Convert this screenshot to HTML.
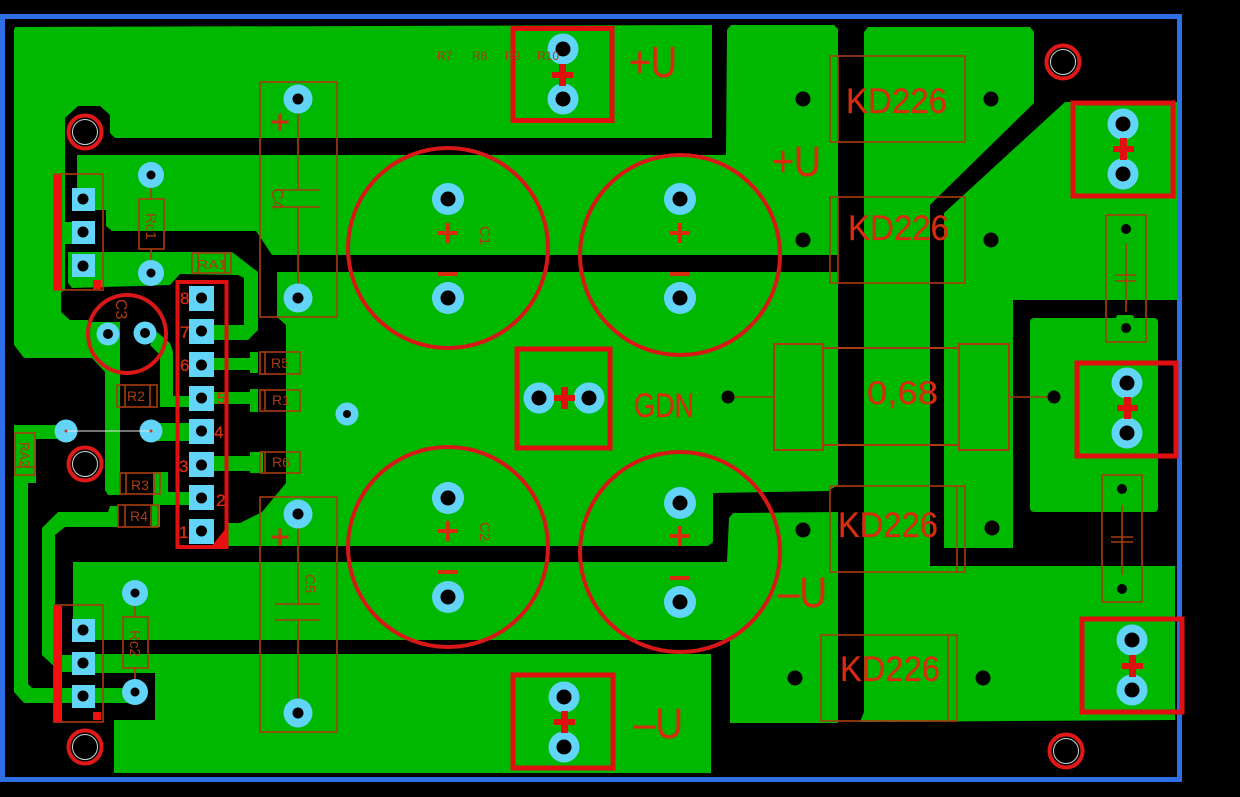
<!DOCTYPE html>
<html><head><meta charset="utf-8"><style>
html,body{margin:0;padding:0;background:#000;width:1240px;height:797px;overflow:hidden}
svg{display:block}
text{font-family:"Liberation Sans",sans-serif}
.g{fill:#00b800}
.o{fill:none;stroke:#a83c10;stroke-width:1.6}
.t{fill:none;stroke:#e01010;stroke-width:5}
.c{fill:none;stroke:#d81818;stroke-width:4}
.l{fill:#d82c10;stroke:#d82c10;stroke-width:.3}
.s{fill:#a83c10}
.v{fill:#62d4f8}
</style></head><body>
<svg width="1240" height="797" viewBox="0 0 1240 797" xmlns="http://www.w3.org/2000/svg">
<rect width="1240" height="797" fill="#000"/>
<!-- copper -->
<g class="g">
<polygon points="15,27 712,25 712,138 115,138 110,133 110,115 100,106 78,106 65,118 65,290 61,292 61,312 70,320 88,320 88,322 120,322 120,495 108,495 105,490 105,372 92,358 24,358 14,345 14,30"/>
<polygon points="77,155 726,155 727,30 731,25 834,25 838,29 838,255 272,255 256,231 112,231 106,226 106,210 94,210 77,187"/>
<rect x="60" y="222" width="15" height="22"/>
<polygon points="68,252 232,252 258,272 258,330 248,340 212,340 212,325 244,325 244,278 238,275 180,274 170,285 72,288 68,283"/>
<polygon points="277,272 838,272 838,485 828,491 713,493 713,542 708,546 228,546 228,523 240,523 262,512 286,483 286,325 277,317"/>
<polygon points="733,513 838,512 838,723 730,723 730,640 727,640 73,640 73,562 727,562 729,518"/>
<polygon points="80,654 711,654 711,773 114,773 114,720 155,720 155,673 80,673"/>
<polygon points="868,27 1030,27 1034,32 1034,103 940,195 930,205 930,566 1175,566 1175,720 860,722 864,712 864,32"/>
<polygon points="1065,102 1177,102 1177,300 1013,300 1013,548 944,548 944,213"/>
<rect x="1030" y="318" width="128" height="194" rx="4"/>
<rect x="1116" y="315" width="18" height="5" rx="2.500"/>
<!-- traces -->
<polygon points="14,425 66,425 66,439 36,439 36,483 28,483 28,684 32,688 135,688 135,703 24,703 14,692 14,468 14,425"/>
<polygon points="118,506 118,527 65,527 55,535 55,648 62,655 72,655 72,672 60,672 42,655 42,528 58,512 108,512 110,506"/>
<rect x="151" y="423" width="40" height="18"/>
<rect x="214" y="456" width="46" height="15"/>
<rect x="250" y="452" width="13" height="21"/>
<rect x="153" y="472" width="15" height="33"/>
<rect x="153" y="492" width="38" height="13"/>
<rect x="152" y="505" width="8" height="22"/>
<rect x="160" y="396" width="30" height="11"/>
<rect x="214" y="392" width="40" height="12"/>
<rect x="250" y="389" width="8" height="23"/>
<rect x="214" y="358" width="40" height="12"/>
<rect x="250" y="352" width="8" height="21"/>
<polygon points="157,332 170,343 173,352 173,400 160,407 160,355 150,345"/>
</g>
<!-- board border -->
<rect x="2.5" y="16.5" width="1177" height="763" fill="none" stroke="#2f6fe6" stroke-width="5"/>
<!-- outlines -->
<g class="o">
<rect x="260" y="82" width="77" height="235"/>
<rect x="260" y="497" width="77" height="235"/>
<path d="M298 112V190M275 190H320M275 207H320M298 207V285M298 527V604M275 604H320M275 620H320M298 620V700"/>
<rect x="830" y="56" width="135" height="86"/><path d="M838 56V142"/>
<rect x="830" y="197" width="135" height="86"/><path d="M838 197V283"/>
<rect x="830" y="486" width="135" height="86"/><path d="M957 486V572"/>
<rect x="821" y="635" width="136" height="86"/><path d="M948 635V721"/>
<rect x="774" y="344" width="49" height="106" stroke-width="2"/>
<rect x="959" y="344" width="50" height="106" stroke-width="2"/>
<rect x="823" y="348" width="136" height="97" stroke-width="2"/>
<path d="M728 397H774M1009 397H1054"/>
<rect x="1106" y="215" width="40" height="127"/>
<path d="M1126 243V312M1115 275H1136M1115 281H1136"/>
<rect x="1102" y="475" width="40" height="127"/>
<path d="M1122 505V575M1111 537H1133M1111 542H1133"/>
<rect x="54" y="174" width="49" height="116"/>
<rect x="54" y="605" width="49" height="117"/>
<rect x="139" y="199" width="25" height="50"/><path d="M151 188V199M151 249V260"/>
<rect x="123" y="617" width="25" height="51"/><path d="M135 606V617M135 668V679"/>
<rect x="192" y="253" width="39" height="20"/><path d="M198 253V273M225 253V273"/>
<rect x="117" y="385" width="40" height="22"/><path d="M125 385V407M150 385V407"/>
<rect x="120" y="473" width="40" height="21"/><path d="M126 473V494M154 473V494"/>
<rect x="118" y="505" width="40" height="22"/><path d="M125 505V527M151 505V527"/>
<rect x="15" y="433" width="20" height="42"/><path d="M15 467H35"/>
<rect x="260" y="352" width="40" height="22"/><path d="M265 352V374"/>
<rect x="260" y="390" width="40" height="21"/><path d="M265 390V411"/>
<rect x="260" y="452" width="40" height="21"/><path d="M265 452V473"/>
</g>
<!-- large caps -->
<g class="c">
<circle cx="448" cy="248" r="100"/><circle cx="680" cy="255" r="100"/>
<circle cx="448" cy="547" r="100"/><circle cx="680" cy="552" r="100"/>
<circle cx="127" cy="334" r="39"/>
</g>
<!-- terminals -->
<g class="t">
<rect x="513" y="28.500" width="99" height="92"/>
<rect x="513" y="675" width="100" height="93"/>
<rect x="517" y="349" width="93" height="99"/>
<rect x="1073" y="103" width="100" height="93"/>
<rect x="1077" y="363" width="99" height="93"/>
<rect x="1082" y="619" width="100" height="93"/>
<rect x="177.500" y="282" width="49" height="265" stroke-width="4"/>
</g>
<polygon points="227,527 227,548 210,548" fill="#e81010"/>
<rect x="54" y="175" width="8" height="115" fill="#f01010"/>
<rect x="54" y="606" width="8" height="116" fill="#f01010"/>
<rect x="93" y="280" width="8" height="9" fill="#f01010"/>
<rect x="93" y="712" width="8" height="8" fill="#f01010"/>
<!-- vias -->
<g class="v">
<circle cx="298" cy="99" r="14.500"/><circle cx="298" cy="298" r="14.500"/>
<circle cx="298" cy="514" r="14.500"/><circle cx="298" cy="713" r="14.500"/>
<circle cx="448" cy="199" r="16"/><circle cx="448" cy="298" r="16"/>
<circle cx="680" cy="199" r="16"/><circle cx="680" cy="298" r="16"/>
<circle cx="448" cy="498" r="16"/><circle cx="448" cy="597" r="16"/>
<circle cx="680" cy="503" r="16"/><circle cx="680" cy="602" r="16"/>
<circle cx="563" cy="49" r="15.500"/><circle cx="563" cy="99" r="15.500"/>
<circle cx="564" cy="697" r="15.500"/><circle cx="564" cy="747" r="15.500"/>
<circle cx="539" cy="398" r="15.500"/><circle cx="589" cy="398" r="15.500"/>
<circle cx="1123" cy="124" r="15.500"/><circle cx="1123" cy="174" r="15.500"/>
<circle cx="1127" cy="383" r="15.500"/><circle cx="1127" cy="433" r="15.500"/>
<circle cx="1132" cy="640" r="15.500"/><circle cx="1132" cy="690" r="15.500"/>
<circle cx="151" cy="175" r="13"/><circle cx="151" cy="273" r="13"/>
<circle cx="135" cy="593" r="13"/><circle cx="135" cy="692" r="13"/>
<circle cx="66" cy="431" r="11.500"/><circle cx="151" cy="431" r="11.500"/>
<circle cx="347" cy="414" r="11.500"/>
<circle cx="108" cy="334" r="11.500"/><circle cx="145" cy="333" r="11.500"/>
<rect x="189" y="286" width="25" height="25"/><rect x="189" y="319" width="25" height="25"/>
<rect x="189" y="352" width="25" height="25"/><rect x="189" y="386" width="25" height="25"/>
<rect x="189" y="419" width="25" height="25"/><rect x="189" y="452" width="25" height="25"/>
<rect x="189" y="485" width="25" height="25"/><rect x="189" y="519" width="25" height="25"/>
<rect x="72" y="188" width="23" height="23"/><rect x="72" y="221" width="23" height="23"/><rect x="72" y="254" width="23" height="23"/>
<rect x="72" y="619" width="23" height="23"/><rect x="72" y="652" width="23" height="23"/><rect x="72" y="685" width="23" height="23"/>
</g>
<g fill="#000">
<circle cx="298" cy="99" r="5.500"/><circle cx="298" cy="298" r="5.500"/><circle cx="298" cy="514" r="5.500"/><circle cx="298" cy="713" r="5.500"/>
<circle cx="448" cy="199" r="7.500"/><circle cx="448" cy="298" r="7.500"/><circle cx="680" cy="199" r="7.500"/><circle cx="680" cy="298" r="7.500"/>
<circle cx="448" cy="498" r="7.500"/><circle cx="448" cy="597" r="7.500"/><circle cx="680" cy="503" r="7.500"/><circle cx="680" cy="602" r="7.500"/>
<circle cx="563" cy="49" r="7.500"/><circle cx="563" cy="99" r="7.500"/><circle cx="564" cy="697" r="7.500"/><circle cx="564" cy="747" r="7.500"/>
<circle cx="539" cy="398" r="7.500"/><circle cx="589" cy="398" r="7.500"/>
<circle cx="1123" cy="124" r="7.500"/><circle cx="1123" cy="174" r="7.500"/><circle cx="1127" cy="383" r="7.500"/><circle cx="1127" cy="433" r="7.500"/>
<circle cx="1132" cy="640" r="7.500"/><circle cx="1132" cy="690" r="7.500"/>
<circle cx="151" cy="175" r="4.500"/><circle cx="151" cy="273" r="4.500"/><circle cx="135" cy="593" r="4.500"/><circle cx="135" cy="692" r="4.500"/>
<circle cx="347" cy="414" r="4"/><circle cx="108" cy="334" r="5"/><circle cx="145" cy="333" r="5"/>
<circle cx="201.500" cy="298" r="5.500"/><circle cx="201.500" cy="331" r="5.500"/><circle cx="201.500" cy="365" r="5.500"/><circle cx="201.500" cy="398" r="5.500"/>
<circle cx="201.500" cy="431" r="5.500"/><circle cx="201.500" cy="465" r="5.500"/><circle cx="201.500" cy="498" r="5.500"/><circle cx="201.500" cy="531" r="5.500"/>
<circle cx="83" cy="199" r="5.500"/><circle cx="83" cy="232" r="5.500"/><circle cx="83" cy="266" r="5.500"/>
<circle cx="83" cy="630" r="5.500"/><circle cx="83" cy="663" r="5.500"/><circle cx="83" cy="696" r="5.500"/>
<circle cx="803" cy="99" r="7.500"/><circle cx="991" cy="99" r="7.500"/><circle cx="803" cy="240" r="7.500"/><circle cx="991" cy="240" r="7.500"/>
<circle cx="803" cy="530" r="7.500"/><circle cx="992" cy="528" r="7.500"/><circle cx="795" cy="678" r="7.500"/><circle cx="983" cy="678" r="7.500"/>
<circle cx="728" cy="397" r="6.500"/><circle cx="1054" cy="397" r="6.500"/>
<circle cx="1126" cy="229" r="5"/><circle cx="1126" cy="328" r="5"/><circle cx="1122" cy="489" r="5"/><circle cx="1122" cy="589" r="5"/>
</g>
<path d="M66 431H151" stroke="#e8e8e8" stroke-width="1"/>
<circle cx="66" cy="431" r="1.500" fill="#c04020"/><circle cx="151" cy="431" r="1.500" fill="#c04020"/>
<!-- mounting holes -->
<g fill="#000" stroke="#e01818" stroke-width="4">
<circle cx="85" cy="132" r="16.500"/><circle cx="85" cy="464" r="16.500"/><circle cx="85" cy="747" r="16.500"/>
<circle cx="1063" cy="62" r="16.500"/><circle cx="1066" cy="751" r="16.500"/>
</g>
<g fill="none" stroke="#c8d8d0" stroke-width="1">
<circle cx="85" cy="132" r="12.500"/><circle cx="85" cy="464" r="12.500"/><circle cx="85" cy="747" r="12.500"/>
<circle cx="1063" cy="62" r="12.500"/><circle cx="1066" cy="751" r="12.500"/>
</g>
<!-- plus / minus marks -->
<g fill="#e01010">
<path d="M552 72H573V78H552Z M559 64H566V86H559Z"/>
<path d="M554 719H575V725H554Z M561 711H568V733H561Z"/>
<path d="M554 395H575V401H554Z M561 387H568V409H561Z"/>
<path d="M1113 146H1134V152H1113Z M1120 138H1127V160H1120Z"/>
<path d="M1117 405H1138V411H1117Z M1124 397H1131V419H1124Z"/>
<path d="M1122 663H1143V669H1122Z M1129 655H1136V677H1129Z"/>
</g>
<g fill="#d82c10">
<path d="M438 231H458V235H438Z M446 223H450V243H446Z"/>
<path d="M670 231H690V235H670Z M678 223H682V243H678Z"/>
<path d="M438 529H458V533H438Z M446 521H450V541H446Z"/>
<path d="M670 534H690V538H670Z M678 526H682V546H678Z"/>
<rect x="438" y="272" width="20" height="4"/><rect x="670" y="272" width="20" height="4"/>
<rect x="438" y="570" width="20" height="4"/><rect x="670" y="576" width="20" height="4"/>
<path d="M272 121H288V123H272Z M279 114H281V130H279Z M272 536H288V538H272Z M279 529H281V545H279Z" stroke="#c83010"/>
</g>
<!-- labels -->
<g class="l">
<text x="846" y="113" font-size="35" textLength="101" lengthAdjust="spacingAndGlyphs">KD226</text>
<text x="848" y="240" font-size="35" textLength="101" lengthAdjust="spacingAndGlyphs">KD226</text>
<text x="838" y="537" font-size="35" textLength="100" lengthAdjust="spacingAndGlyphs">KD226</text>
<text x="840" y="681" font-size="35" textLength="100" lengthAdjust="spacingAndGlyphs">KD226</text>
<text x="867" y="404" font-size="32" textLength="71" lengthAdjust="spacingAndGlyphs">0,68</text>
<text x="629" y="77" font-size="44" textLength="48" lengthAdjust="spacingAndGlyphs">+U</text>
<text x="772" y="176" font-size="43" textLength="49" lengthAdjust="spacingAndGlyphs">+U</text>
<text x="634" y="417" font-size="34" textLength="60" lengthAdjust="spacingAndGlyphs">GDN</text>
<text x="778" y="607" font-size="43" textLength="49" lengthAdjust="spacingAndGlyphs">–U</text>
<text x="634" y="738" font-size="43" textLength="49" lengthAdjust="spacingAndGlyphs">–U</text>
<text x="180" y="304" font-size="17">8</text>
<text x="180" y="338" font-size="17">7</text>
<text x="180" y="371" font-size="17">6</text>
<text x="217" y="404" font-size="17">5</text>
<text x="214" y="438" font-size="17">4</text>
<text x="179" y="472" font-size="17">3</text>
<text x="216" y="506" font-size="17">2</text>
<text x="179" y="538" font-size="17">1</text>
</g>
<g class="s">
<text x="437" y="60" font-size="12">R7</text>
<text x="472" y="60" font-size="12">R8</text>
<text x="505" y="60" font-size="12">R9</text>
<text x="537" y="60" font-size="12">R10</text>
<text font-size="17" transform="translate(272,188) rotate(90)">C4</text>
<text font-size="15" transform="translate(305,574) rotate(90)">C5</text>
<text font-size="15" transform="translate(480,226) rotate(90)">C1</text>
<text font-size="15" transform="translate(480,522) rotate(90)">C2</text>
<text font-size="16" transform="translate(116,299) rotate(90)">C3</text>
<text font-size="15" transform="translate(146,213) rotate(90)">Rc1</text>
<text font-size="15" transform="translate(130,630) rotate(90)">Rc2</text>
<text font-size="13" transform="translate(20,442) rotate(90)">RA2</text>
<text x="197" y="269" font-size="13" textLength="30" lengthAdjust="spacingAndGlyphs">RA1</text>
<text x="127" y="401" font-size="14">R2</text>
<text x="131" y="490" font-size="14">R3</text>
<text x="130" y="521" font-size="14">R4</text>
<text x="271" y="368" font-size="14">R5</text>
<text x="272" y="405" font-size="14">R1</text>
<text x="272" y="467" font-size="14">R6</text>
</g>
</svg>
</body></html>
